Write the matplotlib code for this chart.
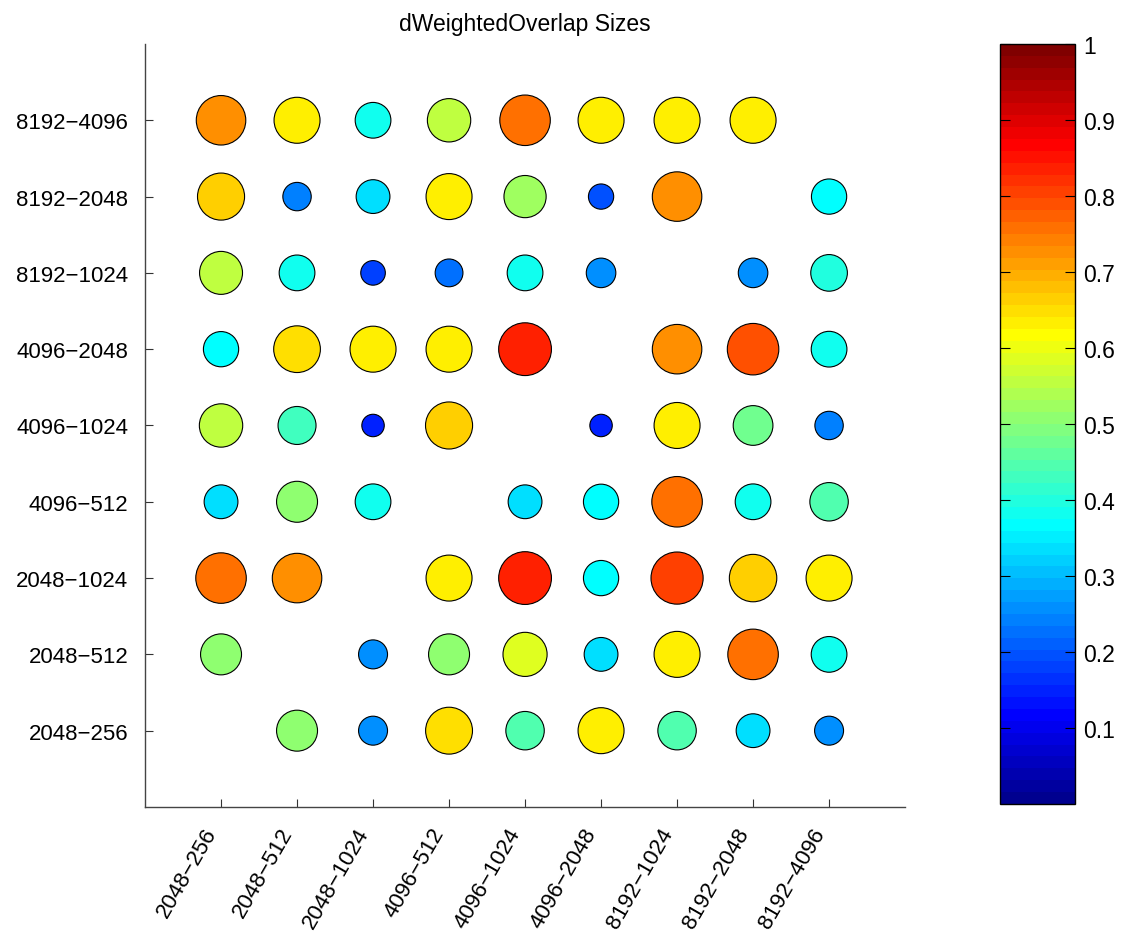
import matplotlib
matplotlib.use("Agg")
import numpy as np
import matplotlib.pyplot as plt
from matplotlib.colors import ListedColormap

plt.rcParams["font.family"] = ["Liberation Sans", "DejaVu Sans"]

x_labels = ["2048−256", "2048−512", "2048−1024", "4096−512", "4096−1024",
            "4096−2048", "8192−1024", "8192−2048", "8192−4096"]
y_labels = ["2048−256", "2048−512", "2048−1024", "4096−512", "4096−1024",
            "4096−2048", "8192−1024", "8192−2048", "8192−4096"]

# overlap per (row, column); NaN = no bubble. rows listed bottom to top
row_2048_256  = [np.nan, 0.50, 0.25, 0.655, 0.44, 0.63, 0.44, 0.34, 0.25]
row_2048_512  = [0.50, np.nan, 0.25, 0.50, 0.58, 0.34, 0.63, 0.76, 0.38]
row_2048_1024 = [0.76, 0.73, np.nan, 0.63, 0.83, 0.37, 0.81, 0.67, 0.63]
row_4096_512  = [0.34, 0.50, 0.38, np.nan, 0.34, 0.37, 0.76, 0.38, 0.44]
row_4096_1024 = [0.56, 0.43, 0.15, 0.66, np.nan, 0.15, 0.63, 0.47, 0.24]
row_4096_2048 = [0.37, 0.65, 0.63, 0.63, 0.83, np.nan, 0.73, 0.79, 0.38]
row_8192_1024 = [0.55, 0.38, 0.18, 0.23, 0.38, 0.26, np.nan, 0.26, 0.40]
row_8192_2048 = [0.66, 0.24, 0.34, 0.63, 0.53, 0.19, 0.73, np.nan, 0.37]
row_8192_4096 = [0.73, 0.63, 0.38, 0.56, 0.76, 0.63, 0.63, 0.63, np.nan]

rows = [row_2048_256, row_2048_512, row_2048_1024, row_4096_512, row_4096_1024,
        row_4096_2048, row_8192_1024, row_8192_2048, row_8192_4096]


def matlab_jet(m=64):
    n = int(np.ceil(m / 4))
    u = np.concatenate([np.arange(1, n + 1) / n, np.ones(n - 1), np.arange(n, 0, -1) / n])
    g = int(np.ceil(n / 2)) - (1 if m % 4 == 1 else 0) + np.arange(1, len(u) + 1)
    r = g + n
    b = g - n
    J = np.zeros((m, 3))
    k = r <= m
    J[r[k] - 1, 0] = u[k]
    k = g <= m
    J[g[k] - 1, 1] = u[k]
    k = b >= 1
    J[b[k] - 1, 2] = u[k]
    return ListedColormap(J)


cmap = matlab_jet(64)

vals = np.array(rows, dtype=float)
yy, xx = np.mgrid[1:10, 1:10]
ok = ~np.isnan(vals)

fig = plt.figure(figsize=(11.26, 9.45), dpi=100)
ax = fig.add_axes([0.1288, 0.145, 0.675, 0.8074])
sc = ax.scatter(xx[ok], yy[ok], s=1740 * vals[ok], c=vals[ok], cmap=cmap,
                vmin=0, vmax=1, edgecolors="black", linewidths=0.8, zorder=3)

ax.set_xlim(0, 10)
ax.set_ylim(0, 10)
ax.set_xticks(range(1, 10))
ax.set_xticklabels(x_labels, rotation=60, ha="right", va="top", fontsize=16)
ax.set_yticks(range(1, 10))
ax.set_yticklabels(y_labels, fontsize=16)
ax.tick_params(axis="both", direction="in", length=6, width=0.8, color="#333333")
ax.tick_params(axis="x", pad=12)
ax.tick_params(axis="y", pad=12)
for side in ["top", "right"]:
    ax.spines[side].set_visible(False)
for side in ["left", "bottom"]:
    ax.spines[side].set_color("#444444")
    ax.spines[side].set_linewidth(1.0)
ax.set_title("dWeightedOverlap Sizes", fontsize=16.5, pad=10)

cax = fig.add_axes([0.888, 0.1482, 0.0666, 0.8042])
cb = fig.colorbar(sc, cax=cax)
cb.set_ticks([0.1, 0.2, 0.3, 0.4, 0.5, 0.6, 0.7, 0.8, 0.9, 1.0])
cb.set_ticklabels(["0.1", "0.2", "0.3", "0.4", "0.5", "0.6", "0.7", "0.8", "0.9", "1"])
cax.tick_params(direction="in", length=7, width=0.8, labelsize=16.5, left=True, right=True, pad=6)
cb.outline.set_linewidth(1.0)

fig.savefig("out.png", dpi=100, facecolor="white")
